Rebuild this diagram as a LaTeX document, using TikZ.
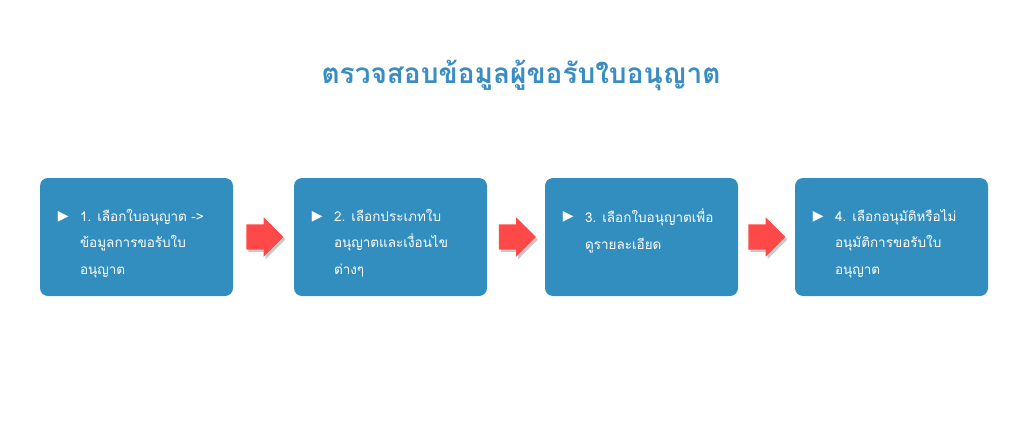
\documentclass[tikz,border=0pt]{standalone}
\usepackage{fontspec}
\newfontfamily\thaifont[Script=Thai]{Loma}
\newfontfamily\symfont{DejaVu Sans}
\usetikzlibrary{shapes.arrows,shadows,calc}
\definecolor{boxblue}{HTML}{338EC0}
\definecolor{titleblue}{HTML}{3A8DC3}
\definecolor{arrowred}{HTML}{FF4848}
\begin{document}
\begin{tikzpicture}[x=1pt,y=-1pt,
  stepbox/.style={draw=none,fill=boxblue,rounded corners=8pt,minimum width=193pt,minimum height=118pt,inner sep=0pt},
  steptext/.style={anchor=north west,text=white,font=\thaifont\fontsize{13.5}{26.5}\selectfont,align=left,inner sep=0pt},
  bulletmark/.style={text=white,font=\symfont\fontsize{14}{14}\selectfont,inner sep=0pt},
  redarrow/.style={single arrow,fill=arrowred,draw=none,minimum height=37pt,minimum width=39pt,inner xsep=0pt,inner ysep=12.5pt,single arrow head extend=7pt,single arrow head indent=0pt,drop shadow={shadow xshift=2pt,shadow yshift=-2.5pt,fill=black!35,opacity=0.6}}]
\useasboundingbox (0,0) rectangle (1024,420);
\node[text=titleblue,font=\thaifont\bfseries\fontsize{28}{30}\selectfont] (title) at (521,75) {ตรวจสอบข้อมูลผู้ขอรับใบอนุญาต};
\node[stepbox] (b1) at (136.5,237) {};
\node[stepbox] (b2) at (390.5,237) {};
\node[stepbox] (b3) at (641.5,237) {};
\node[stepbox] (b4) at (891.5,237) {};
\foreach \b/\t in {b1/{1. เลือกใบอนุญาต ->\\ข้อมูลการขอรับใบ\\อนุญาต},b2/{2. เลือกประเภทใบ\\อนุญาตและเงื่อนไข\\ต่างๆ},b3/{3. เลือกใบอนุญาตเพื่อ\\ดูรายละเอียด},b4/{4. เลือกอนุมัติหรือไม่\\อนุมัติการขอรับใบ\\อนุญาต}}{
  \node[bulletmark] (\b m) at ($(\b.north west)+(23.5,39.5)$) {▶};
  \node[steptext] (\b t) at ($(\b.north west)+(40,31)$) {\t};
}
\node[redarrow] (a1) at ($(b1.east)!0.5!(b2.west)+(-5,0)$) {};
\node[redarrow] (a2) at ($(b2.east)!0.5!(b3.west)+(-5,0)$) {};
\node[redarrow] (a3) at ($(b3.east)!0.5!(b4.west)+(-6,0)$) {};
\end{tikzpicture}
\end{document}
